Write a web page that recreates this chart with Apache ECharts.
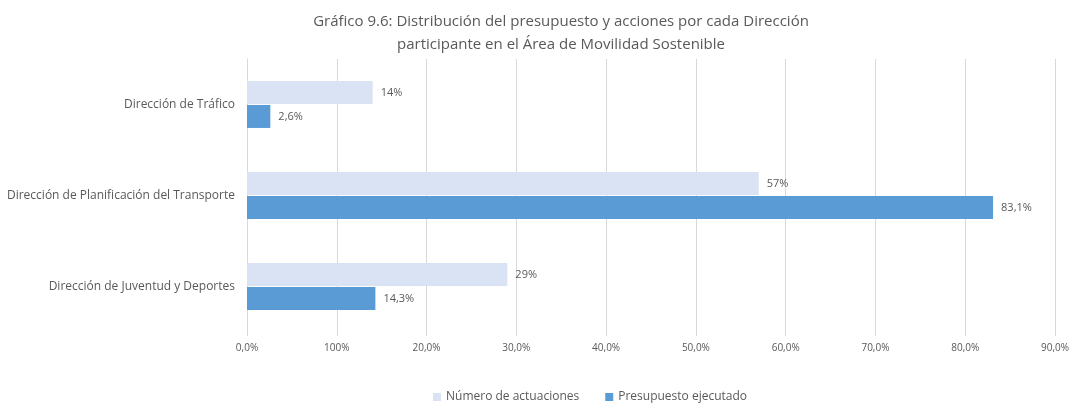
<!DOCTYPE html>
<html>
<head>
<meta charset="utf-8">
<script src="https://cdn.jsdelivr.net/npm/echarts@6/dist/echarts.min.js"></script>
<style>
  html, body { margin: 0; padding: 0; background: #fff; }
  #chart { width: 1072px; height: 404px; }
</style>
</head>
<body>
<div id="chart"></div>
<script>
// Direcciones del Área de Movilidad Sostenible
const categories = [
  'Dirección de Tráfico',
  'Dirección de Planificación del Transporte',
  'Dirección de Juventud y Deportes'
];
// Porcentaje del número de actuaciones
const actuaciones = [14, 57, 29];
const actuacionesLabels = ['14%', '57%', '29%'];
// Porcentaje del presupuesto ejecutado
const presupuesto = [2.6, 83.1, 14.3];
const presupuestoLabels = ['2,6%', '83,1%', '14,3%'];
// Etiquetas del eje de valores
const tickLabels = ['0,0%', '100%', '20,0%', '30,0%', '40,0%', '50,0%', '60,0%', '70,0%', '80,0%', '90,0%'];

const textColor = '#595959';
const font = 'Open Sans, Liberation Sans, sans-serif';

const chart = echarts.init(document.getElementById('chart'));
chart.setOption({
  animation: false,
  textStyle: { fontFamily: font },
  title: {
    text: 'Gráfico 9.6: Distribución del presupuesto y acciones por cada Dirección\nparticipante en el Área de Movilidad Sostenible',
    left: 556,
    top: 5,
    textAlign: 'center',
    textStyle: { color: textColor, fontSize: 15, fontWeight: 'normal', lineHeight: 23, fontFamily: font }
  },
  legend: {
    top: 386,
    left: 428,
    itemWidth: 8,
    itemHeight: 8,
    itemGap: 26,
    icon: 'rect',
    textStyle: { color: textColor, fontSize: 12, fontFamily: font },
    data: ['Número de actuaciones', 'Presupuesto ejecutado']
  },
  grid: { left: 247, right: 14, top: 59, bottom: 72, containLabel: false },
  xAxis: {
    type: 'value',
    min: 0,
    max: 90,
    interval: 10,
    axisLine: { show: false },
    axisTick: { show: true, length: 4, lineStyle: { color: '#d9d9d9' } },
    splitLine: { show: true, lineStyle: { color: '#d9d9d9', width: 1 } },
    axisLabel: {
      color: textColor,
      fontSize: 10,
      margin: 11,
      formatter: (v) => tickLabels[Math.round(v / 10)]
    }
  },
  yAxis: {
    type: 'category',
    inverse: true,
    data: categories,
    axisLine: { show: true, lineStyle: { color: '#d9d9d9' } },
    axisTick: { show: false },
    axisLabel: { color: textColor, fontSize: 12, margin: 12 }
  },
  series: [
    {
      name: 'Número de actuaciones',
      type: 'bar',
      data: actuaciones,
      barWidth: 23,
      barGap: '4%',
      itemStyle: { color: '#dae3f3' },
      label: {
        show: true,
        position: 'right',
        distance: 8,
        color: textColor,
        fontSize: 11,
        formatter: (p) => actuacionesLabels[p.dataIndex]
      }
    },
    {
      name: 'Presupuesto ejecutado',
      type: 'bar',
      data: presupuesto,
      barWidth: 23,
      barGap: '4%',
      itemStyle: { color: '#5b9bd5' },
      label: {
        show: true,
        position: 'right',
        distance: 8,
        color: textColor,
        fontSize: 11,
        formatter: (p) => presupuestoLabels[p.dataIndex]
      }
    }
  ]
});
</script>
</body>
</html>
